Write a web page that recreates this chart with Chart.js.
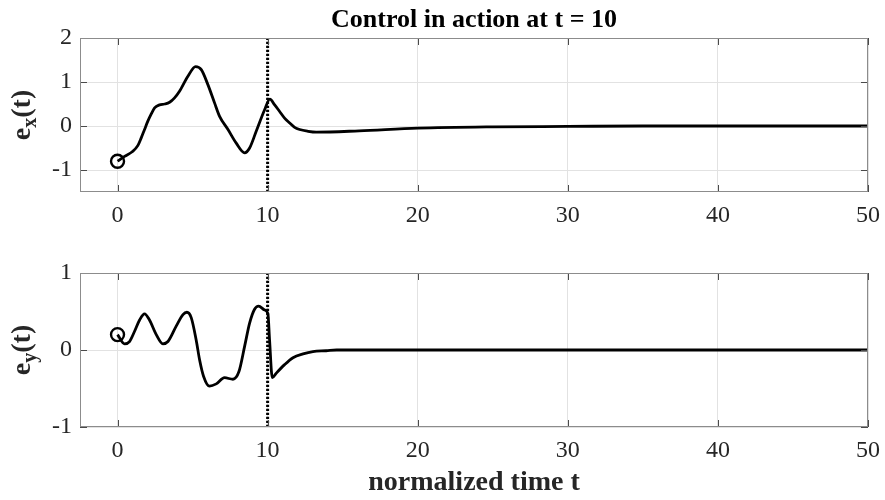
<!DOCTYPE html>
<html>
<head>
<meta charset="utf-8">
<script src="https://cdn.jsdelivr.net/npm/chart.js@4.4.0/dist/chart.umd.min.js"></script>
<style>
  html, body { margin: 0; padding: 0; background: #fff; }
  canvas { display: block; }
</style>
</head>
<body>
<canvas id="topChart" width="885" height="250"></canvas>
<canvas id="bottomChart" width="885" height="250"></canvas>
<script>
// values
const xTicks = [0, 10, 20, 30, 40, 50];
const exTicks = [-1, 0, 1, 2];
const eyTicks = [-1, 0, 1];
const controlTime = 10;

const tEx = [0, 0.47, 1.0, 1.36, 1.58, 1.8, 2.02, 2.24, 2.47, 2.8, 3.13, 3.47, 3.8, 4.13, 4.69, 5.2, 5.58, 6.02, 6.47, 6.8, 7.36, 7.91, 8.47, 8.8, 9.24, 9.8, 10.15,
             10.47, 10.8, 11.13, 11.47, 11.8, 12.13, 12.69, 13.24, 16.1, 20, 25, 30, 35, 50];
const ex  = [-0.80, -0.69, -0.58, -0.44, -0.27, -0.08, 0.11, 0.27, 0.41, 0.48, 0.50, 0.54, 0.64, 0.79, 1.13, 1.35, 1.28, 0.94, 0.52, 0.22, -0.08, -0.39, -0.61, -0.50, -0.12, 0.37, 0.61,
             0.48, 0.33, 0.18, 0.07, -0.03, -0.08, -0.12, -0.14, -0.11, -0.05, -0.02, -0.01, 0, 0];

const tEy = [0, 0.47, 0.8, 1.13, 1.47, 1.8, 2.13, 2.58, 3.02, 3.36, 3.91, 4.36, 4.62, 4.91, 5.24, 5.47, 5.73, 6.13, 6.58, 7.13, 7.69, 8.09, 8.47, 8.8, 9.13, 9.4, 9.8, 10.02,
             10.13, 10.31, 10.58, 11.13, 11.69, 12.36, 13.02, 13.9, 14.6, 50];
const ey  = [0.20, 0.08, 0.11, 0.24, 0.39, 0.47, 0.39, 0.20, 0.08, 0.11, 0.31, 0.46, 0.49, 0.42, 0.13, -0.13, -0.34, -0.47, -0.44, -0.36, -0.38, -0.28, 0.05, 0.35, 0.53, 0.57, 0.52, 0.47,
             0.13, -0.36, -0.30, -0.19, -0.10, -0.05, -0.02, -0.01, 0, 0];

const serif = "'Liberation Serif', 'Times New Roman', serif";
const tickColor = '#262626';

// box around the axes + inward tick marks on all four sides
const matlabBox = {
  id: 'matlabBox',
  afterDraw(chart) {
    const { ctx, chartArea: a, scales } = chart;
    ctx.save();
    ctx.lineWidth = 1;
    ctx.strokeStyle = '#4a4a4a';
    ctx.beginPath();
    scales.x.ticks.forEach(t => {
      const px = Math.round(scales.x.getPixelForValue(t.value)) + 0.5;
      ctx.moveTo(px, a.top); ctx.lineTo(px, a.top + 7);
      ctx.moveTo(px, a.bottom); ctx.lineTo(px, a.bottom - 7);
    });
    scales.y.ticks.forEach(t => {
      const py = Math.round(scales.y.getPixelForValue(t.value)) + 0.5;
      ctx.moveTo(a.left, py); ctx.lineTo(a.left + 7, py);
      ctx.moveTo(a.right, py); ctx.lineTo(a.right - 7, py);
    });
    ctx.stroke();
    ctx.strokeStyle = '#8c8c8c';
    ctx.strokeRect(a.left + 0.5, a.top + 0.5, a.width - 1, a.height - 1);
    ctx.restore();
  }
};

// rotated y label with a subscript, e.g. e_x(t)
const yLabel = {
  id: 'yLabel',
  afterDraw(chart, args, opts) {
    const { ctx, chartArea: a } = chart;
    const mainFont = 'bold 28px ' + serif;
    const subFont = 'bold 20px ' + serif;
    ctx.save();
    ctx.font = mainFont;
    const w1 = ctx.measureText(opts.main).width;
    const w3 = ctx.measureText(opts.tail).width;
    ctx.font = subFont;
    const w2 = ctx.measureText(opts.sub).width;
    const total = w1 + w2 + w3;
    ctx.translate(opts.x, (a.top + a.bottom) / 2);
    ctx.rotate(-Math.PI / 2);
    ctx.fillStyle = '#262626';
    ctx.textBaseline = 'alphabetic';
    ctx.textAlign = 'left';
    let x = -total / 2;
    ctx.font = mainFont;
    ctx.fillText(opts.main, x, 0);
    x += w1;
    ctx.font = subFont;
    ctx.fillText(opts.sub, x, 6);
    x += w2;
    ctx.font = mainFont;
    ctx.fillText(opts.tail, x, 0);
    ctx.restore();
  }
};

function makeChart(id, t, v, yTicks, yMin, yMax, extra) {
  const pts = t.map((x, i) => ({ x: x, y: v[i] }));
  return new Chart(document.getElementById(id), {
    type: 'line',
    data: {
      datasets: [
        {
          data: pts,
          borderColor: '#000',
          borderWidth: 2.8,
          pointRadius: 0,
          cubicInterpolationMode: 'monotone',
          fill: false
        },
        {
          data: [{ x: controlTime, y: yMin }, { x: controlTime, y: yMax }],
          borderColor: '#000',
          borderWidth: 3,
          borderDash: [2.2, 1.8],
          pointRadius: 0,
          fill: false
        },
        {
          data: [pts[0]],
          showLine: false,
          pointRadius: 6.5,
          pointBorderWidth: 2.4,
          pointBorderColor: '#000',
          pointBackgroundColor: 'rgba(0,0,0,0)'
        }
      ]
    },
    options: {
      responsive: false,
      animation: false,
      devicePixelRatio: 1,
      layout: { padding: { top: extra.padTop, right: 17, left: 0, bottom: 0 } },
      plugins: {
        legend: { display: false },
        tooltip: { enabled: false },
        title: extra.title,
        yLabel: extra.yLabel
      },
      scales: {
        x: {
          type: 'linear',
          min: -2.5,
          max: 50,
          afterBuildTicks: s => { s.ticks = xTicks.map(val => ({ value: val })); },
          afterFit: s => { s.height = extra.xHeight; s.paddingLeft = 0; s.paddingRight = 0; },
          grid: { color: '#e2e2e2', drawTicks: false },
          border: { display: false },
          ticks: { font: { family: serif, size: 24 }, color: tickColor, padding: extra.xPad, maxRotation: 0, autoSkip: false },
          title: extra.xTitle
        },
        y: {
          min: yMin,
          max: yMax,
          afterBuildTicks: s => { s.ticks = yTicks.map(val => ({ value: val })); },
          afterFit: s => { s.width = 80; s.paddingTop = 0; s.paddingBottom = 0; },
          grid: { color: '#e2e2e2', drawTicks: false },
          border: { display: false },
          ticks: { font: { family: serif, size: 24 }, color: tickColor, padding: 8 }
        }
      }
    },
    plugins: [matlabBox, yLabel]
  });
}

makeChart('topChart', tEx, ex, exTicks, -1.5, 2, {
  padTop: 0,
  xHeight: 58,
  xPad: 9,
  title: {
    display: true,
    text: 'Control in action at t = 10',
    fullSize: false,
    color: '#000',
    font: { family: serif, size: 26, weight: 'bold' },
    padding: { top: 5, bottom: 1.8 }
  },
  yLabel: { main: 'e', sub: 'x', tail: '(t)', x: 30 },
  xTitle: { display: false }
});

makeChart('bottomChart', tEy, ey, eyTicks, -1, 1, {
  padTop: 23,
  xHeight: 73,
  xPad: 9,
  title: { display: false },
  yLabel: { main: 'e', sub: 'y', tail: '(t)', x: 30 },
  xTitle: {
    display: true,
    text: 'normalized time t',
    color: '#262626',
    font: { family: serif, size: 28, weight: 'bold' },
    padding: { top: 1, bottom: 0 }
  }
});
</script>
</body>
</html>
